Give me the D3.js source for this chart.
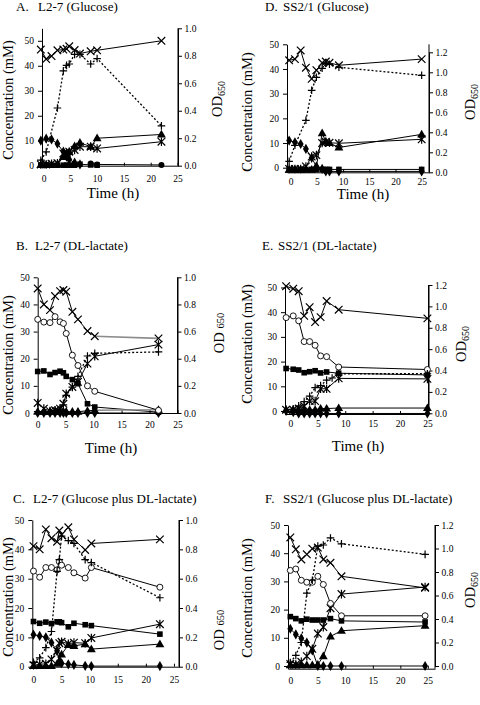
<!DOCTYPE html>
<html><head><meta charset="utf-8">
<script src="https://cdn.jsdelivr.net/npm/d3@7"></script>
<style>
body{margin:0;background:#fff}
svg{display:block}
text{font-family:"Liberation Serif",serif;fill:#000}
</style>
</head><body>
<svg id="chart" width="480" height="705"></svg>
<script>
// ---------- Panel A: L2-7 (Glucose) ----------
const timeA     = [-0.5, 0.5, 1.5, 2.6, 3.7, 4.3, 4.8, 5.8, 6.8, 8.8, 10, 22];
const crossA    = [46.5, 42.7, 43.9, 46.2, 46.5, 46.8, 47.8, 46.3, 44.9, 45.8, 46.2, 50];
const odA       = [0.04, 0.10, null, 0.42, 0.69, 0.73, 0.74, 0.81, 0.81, 0.74, 0.78, 0.29];
const squareA   = [0.2, 0.2, 0.2, 0.2, 0.2, 0.2, 0.2, 0.2, 0.6, 0.3, 0.2, null];
const triangleA = [0.3, 0.3, 0.3, 0.5, 3.5, 5, 5.5, 7.8, 9.2, 7.6, 11, 12.5];
const diamondA  = [10, 10.8, 10.5, 8.8, 5.6, 3.6, 2.5, 1.2, 0.5, null, null, null];
const starA     = [0.5, 0.5, 0.8, 1, 4.9, 5.2, 5.6, 6.3, 7.6, 7.6, 6.9, 9.6];
const dotA      = [null, null, null, null, null, null, null, null, null, 0.9, 0.5, 0.3];

// ---------- Panel D: SS2/1 (Glucose) ----------
const timeD     = [-0.3, 0.8, 1.9, 2.9, 4.0, 4.9, 6.0, 6.7, 7.4, 9.2, 25];
const crossD    = [43.5, 44, 47.5, 40.5, 36, 39.5, 42.5, 43, 42.5, 41.5, 44];
const odD       = [0.11, 0.27, null, 0.52, 0.82, 0.95, 1.04, 1.09, 1.08, 1.05, 0.97];
const squareD   = [-0.7, -0.7, -0.7, -0.7, -0.7, -0.7, -0.7, -0.7, -0.7, -0.7, -0.7];
const triangleD = [-0.8, -0.8, -0.8, -0.8, -0.8, 0.5, 14, 10.5, 10, 8.2, 13.5];
const diamondD  = [11, 10.3, 9.6, 7.6, 4, 0.5, -0.5, -1.5, -1.5, -1.5, -1.5];
const starD     = [-0.5, -0.5, -0.5, 0.5, 4.5, 5.1, 10, 10.5, 10.1, 9.9, 11.5];

// ---------- Panel B: L2-7 (DL-lactate) ----------
const timeB     = [0, 1.1, 2.2, 3.1, 4.0, 4.6, 5.1, 6.2, 7.2, 8.9, 10.2, 21.6];
const crossB    = [45.9, 40, 37.9, 43.1, 44.9, 45.3, 44.7, 37.3, 34.5, 30.2, 28.3, 27.5];
const circleB   = [34.5, 33.5, 33.3, 35.5, 33.6, 33, 29.3, 21.3, 17.5, 10, 8, 1];
const squareB   = [15.3, 15.5, 14.2, 14.9, 15.4, 14.8, 13.5, 12.3, 10.8, 3.4, 2.2, 0.3];
const starB     = [3.7, 1.6, 0.7, 1, 1.6, 3.4, 7.1, 9.6, 11.5, 18.2, 20.9, 25.2];
const odB       = [0.01, 0.01, 0.01, 0.02, 0.03, 0.06, 0.13, 0.19, 0.27, 0.42, 0.44, 0.45];
const triangleB = [0.5, 0.5, 0.5, 0.5, 0.5, 0.5, 0.5, 0.5, 0.5, 0.8, 1, 1.2];
const diamondB  = [0, 0, 0, 0, 0, 0, 0, 0, 0, 0, 0, 0];

// ---------- Panel E: SS2/1 (DL-lactate) ----------
const timeE     = [-0.8, 0.5, 1.5, 2.5, 3.5, 4.5, 5.5, 6.6, 7.6, 8.8, 25];
const crossE    = [50.5, 49.5, 48.5, 38.5, 42, 36, 38, 44.5, null, 41, 37.5];
const circleE   = [37.8, 38.5, 36.5, 28.1, 28.1, 26.6, 22.3, 22, null, 17.8, 16.8];
const squareE   = [17.2, 16.9, 16.6, 15.5, 15.9, 16.3, 15.4, 15.8, null, 15.3, 14.6];
const odE       = [null, 0.04, 0.07, 0.11, 0.16, 0.24, 0.26, 0.31, 0.33, 0.37, 0.37];
const starE     = [0.5, 0.5, 1, 2, 4, 4, 9, 9, null, 13.2, 13];
const triangleE = [0.5, 0.5, 0.5, 0.5, 0.5, 0.5, 1, 1, null, 1.2, 1.2];
const diamondE  = [0, -0.5, -1, -1, -1, -1, -1, -1, null, -1, -1];

// ---------- Panel C: L2-7 (Glucose plus DL-lactate) ----------
const timeC     = [0, 1.1, 2.2, 3.2, 4.2, 4.6, 5.0, 6.2, 7.2, 9.2, 10.3, 22.5];
const crossC    = [41.1, 40, 46.8, 43.8, 42.6, 46.4, 45, 47.5, 43.4, 39.8, 42, 43.4];
const odC       = [0.03, 0.06, 0.13, 0.24, 0.65, 0.73, 0.89, 0.86, 0.84, 0.73, 0.71, 0.47];
const circleC   = [32.6, 30.5, 33.8, 33.8, 33, 35.8, 34.6, 33.8, 32, 30.2, 33.8, 27.1];
const squareC   = [15.4, 14.8, 15.2, 14.7, 15.3, 15.3, 15, 13.6, 14.8, 14.3, 14, 11.1];
const diamondC  = [10.9, 10.5, 10, 8.2, 5.4, 1.8, 1.2, 0.8, 0.6, 0.3, 0.2, 0.2];
const starC     = [0.5, 0.8, 1, 2.5, 5.4, 8, 8.5, 7.8, 8.2, 8, 9.8, 14.5];
const triangleC = [0.3, 0.3, 0.3, 0.3, 1, 1.5, 4.2, 7.4, 7.1, 7.7, 6, 7.7];

// ---------- Panel F: SS2/1 (Glucose plus DL-lactate) ----------
const timeF     = [0, 1, 2, 3, 4, 5, 6, 7.3, 9.3, 24.5];
const crossF    = [45.6, 41.4, 37.8, 39.6, 41.6, 42, 37.8, 36.6, 31.8, 27.7];
const starF     = [0.7, 0.5, 1.5, 3.5, 6.1, 11.5, 13.8, 20.5, 25.5, 28];
const odF       = [0.03, 0.09, 0.2, 0.62, 0.73, 1.02, 1.03, 1.09, 1.04, 0.95];
const circleF   = [33.9, 34.4, 30.4, 29.7, 29.7, 31.8, 28.9, 22.2, 17.8, 17.8];
const squareF   = [17.5, 16.8, 16, 16.6, 16.3, 16.3, 16.3, 16.8, 16, 15.6];
const triangleF = [0.3, 0.3, 0.3, 0.3, 0.3, 0.5, 3.5, 10.5, 12.5, 14.3];
const diamondF  = [13.2, 11.2, 9.8, 8.3, 5.5, 0, 0, 0, 0, 0];

// ---------- Tick labels ----------
const xTicks = [0, 5, 10, 15, 20, 25];
const yTicks = [0, 10, 20, 30, 40, 50];
const odTicks1 = [0, 0.2, 0.4, 0.6, 0.8, 1.0];
const odTicks12 = [0, 0.2, 0.4, 0.6, 0.8, 1.0, 1.2];

// ---------- Layout (positions / styles) ----------
const panels = [
  {letter:"A.", name:"L2-7 (Glucose)", lx:16, nx:38, ty:11,
   l:42, r:178, xd:[-0.28, 25.09], yb:165.7, yt:28.3, yd:[0,55], rr:[165.7,28.3], rd:[0,1], rt:odTicks1,
   time:timeA, s:{square:squareA, triangle:triangleA, diamond:diamondA, dot:dotA, star:starA, cross:crossA, od:odA},
   ylab:[13,100], od:[222,99,true], tl:[113,198], xlab:182, grey:[]},
  {letter:"D.", name:"SS2/1 (Glucose)", lx:265, nx:283, ty:11,
   l:287, r:429, xd:[-0.71, 26.4], yb:172.3, yt:44.3, yd:[-1.86,50], rr:[172.3,52.3], rd:[0,1.2], rt:odTicks12,
   time:timeD, s:{square:squareD, triangle:triangleD, diamond:diamondD, star:starD, cross:crossD, od:odD},
   ylab:[252,112], od:[475,102,true], tl:[363,199], xlab:185, grey:[]},
  {letter:"B.", name:"L2-7 (DL-lactate)", lx:16, nx:35, ty:250,
   l:37.7, r:177.5, xd:[0,25], yb:413, yt:277.3, yd:[0,50], rr:[413,277.3], rd:[0,1], rt:odTicks1,
   time:timeB, s:{square:squareB, triangle:triangleB, diamond:diamondB, star:starB, circle:circleB, cross:crossB, od:odB},
   ylab:[13,355], od:[224,333,false], tl:[111,453], xlab:428, grey:["cross","triangle"]},
  {letter:"E.", name:"SS2/1 (DL-lactate)", lx:262, nx:278, ty:250,
   l:285, r:428.5, xd:[-1.0, 25.2], yb:414, yt:285, yd:[-1.21,51], rr:[413.3,285], rd:[0,1.2], rt:odTicks12,
   time:timeE, s:{square:squareE, triangle:triangleE, diamond:diamondE, star:starE, circle:circleE, cross:crossE, od:odE},
   ylab:[252,344], od:[466,344,true], tl:[358,451], xlab:427, grey:[]},
  {letter:"C.", name:"L2-7 (Glucose plus DL-lactate)", lx:13, nx:33, ty:503,
   l:32.3, r:179, xd:[-0.21, 25.9], yb:666.7, yt:520, yd:[0,50], rr:[666.7,520], rd:[0,1], rt:odTicks1,
   time:timeC, s:{square:squareC, triangle:triangleC, diamond:diamondC, star:starC, circle:circleC, cross:crossC, od:odC},
   ylab:[13,597], od:[224,630,false], tl:null, xlab:683, grey:[]},
  {letter:"F.", name:"SS2/1 (Glucose plus DL-lactate)", lx:265, nx:283, ty:503,
   l:288, r:435, xd:[-0.42, 26.3], yb:668.7, yt:525, yd:[-0.96,50], rr:[666,525], rd:[0,1.2], rt:odTicks12,
   time:timeF, s:{square:squareF, triangle:triangleF, diamond:diamondF, star:starF, circle:circleF, cross:crossF, od:odF},
   ylab:[252,598], od:[475,590,true], tl:null, xlab:684, grey:[]}
];

const order = ["square","triangle","diamond","dot","star","circle","cross","od"];
const FONT = '"Liberation Serif", serif';
const svg = d3.select("#chart");

function drawMarker(g, type, x, y) {
  const k = 3.8;
  if (type === "cross" || type === "star") {
    let d = `M${x-k},${y-k}L${x+k},${y+k}M${x-k},${y+k}L${x+k},${y-k}`;
    if (type === "star") d += `M${x},${y-k-0.5}L${x},${y+k+0.5}`;
    g.append("path").attr("d", d).attr("stroke","#000").attr("stroke-width",1.2).attr("fill","none");
  } else if (type === "od") {
    g.append("path").attr("d", `M${x-k},${y}L${x+k},${y}M${x},${y-k}L${x},${y+k}`)
      .attr("stroke","#000").attr("stroke-width",1.2);
  } else if (type === "circle") {
    g.append("circle").attr("cx",x).attr("cy",y).attr("r",3).attr("fill","#fff").attr("stroke","#000").attr("stroke-width",0.9);
  } else if (type === "dot") {
    g.append("circle").attr("cx",x).attr("cy",y).attr("r",3).attr("fill","#000");
  } else if (type === "square") {
    g.append("rect").attr("x",x-2.8).attr("y",y-2.8).attr("width",5.6).attr("height",5.6).attr("fill","#000");
  } else if (type === "triangle") {
    g.append("path").attr("transform",`translate(${x},${y+0.5})`).attr("d", d3.symbol(d3.symbolTriangle, 34)()).attr("fill","#000");
  } else if (type === "diamond") {
    g.append("path").attr("transform",`translate(${x},${y})`).attr("d", d3.symbol(d3.symbolDiamond, 30)()).attr("fill","#000");
  }
}

panels.forEach(p => {
  const g = svg.append("g");
  const X = d3.scaleLinear().domain(p.xd).range([p.l, p.r]);
  const Y = d3.scaleLinear().domain(p.yd).range([p.yb, p.yt]);
  const R = d3.scaleLinear().domain(p.rd).range(p.rr);

  // title
  g.append("text").attr("x",p.lx).attr("y",p.ty).attr("font-size",13).attr("font-family",FONT).text(p.letter);
  g.append("text").attr("x",p.nx).attr("y",p.ty).attr("font-size",13).attr("font-family",FONT).text(p.name);

  // axes
  const ax = g.append("g").attr("transform",`translate(0,${p.yb})`)
    .call(d3.axisBottom(X).tickValues(xTicks).tickSizeInner(-3).tickSizeOuter(0).tickPadding(p.xlab - p.yb - 6.7));
  const ay = g.append("g").attr("transform",`translate(${p.l},0)`)
    .call(d3.axisLeft(Y).tickValues(yTicks).tickSizeInner(4).tickSizeOuter(0).tickPadding(4).tickFormat(d3.format("d")));
  const ar = g.append("g").attr("transform",`translate(${p.r},0)`)
    .call(d3.axisRight(R).tickValues(p.rt).tickSizeInner(4).tickSizeOuter(0).tickPadding(2.5).tickFormat(d3.format(".1f")));
  [ax, ay, ar].forEach(a => {
    a.attr("font-family", FONT);
    a.selectAll("text").attr("font-size",9.5).attr("font-family",FONT);
    a.selectAll("path,line").attr("stroke","#000").attr("stroke-width",1);
  });
  g.append("line").attr("x1",p.r).attr("x2",p.r).attr("y1",p.yb).attr("y2",Math.min(p.rr[1], p.yt))
    .attr("stroke","#000").attr("stroke-width",1);

  // axis titles
  g.append("text").attr("transform",`translate(${p.ylab[0]},${p.ylab[1]}) rotate(-90)`)
    .attr("text-anchor","middle").attr("font-size",14.5).attr("font-family",FONT).text("Concentration (mM)");
  const od = g.append("text").attr("transform",`translate(${p.od[0]},${p.od[1]}) rotate(-90)`)
    .attr("text-anchor","middle").attr("font-size",14.5).attr("font-family",FONT);
  if (p.od[2]) {
    od.append("tspan").text("OD");
    od.append("tspan").attr("font-size",10).attr("dy",3).text("650");
  } else {
    od.append("tspan").text("OD ");
    od.append("tspan").attr("font-size",10.5).text("650");
  }
  if (p.tl) {
    g.append("text").attr("x",p.tl[0]).attr("y",p.tl[1]).attr("text-anchor","middle")
      .attr("font-size",15).attr("font-family",FONT).text("Time (h)");
  }

  // series
  order.forEach(key => {
    const vals = p.s[key];
    if (!vals) return;
    const sc = key === "od" ? R : Y;
    const pts = p.time.map((t,i) => ({t, v: vals[i]})).filter(d => d.v != null);
    const line = d3.line().x(d => X(d.t)).y(d => sc(d.v));
    const greyTail = p.grey.includes(key);
    const main = greyTail ? pts.slice(0, -1) : pts;
    g.append("path").datum(main).attr("d", line).attr("fill","none").attr("stroke","#000")
      .attr("stroke-width", key === "od" ? 1.3 : 1)
      .attr("stroke-dasharray", key === "od" ? "2,2" : null);
    if (greyTail) {
      g.append("path").datum(pts.slice(-2)).attr("d", line).attr("fill","none")
        .attr("stroke","#8c8c8c").attr("stroke-width",1.6);
    }
    const mg = g.append("g");
    pts.forEach(d => drawMarker(mg, key, X(d.t), sc(d.v)));
  });
});
</script>
</body></html>
